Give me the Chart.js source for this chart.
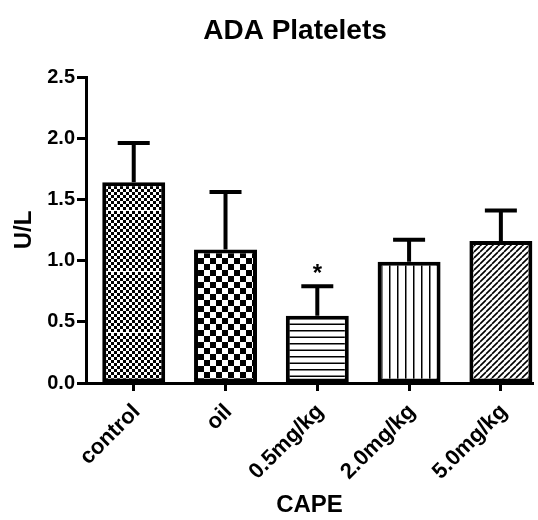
<!DOCTYPE html>
<html>
<head>
<meta charset="utf-8">
<script src="https://cdn.jsdelivr.net/npm/chart.js@4"></script>
<style>
  html, body { margin: 0; padding: 0; background: #fff; }
  #wrap { width: 538px; height: 520px; }
</style>
</head>
<body>
<div id="wrap"><canvas id="c" width="538" height="520"></canvas></div>
<script>
// ADA activity in platelets (U/L), mean with upper SEM bar
const categories = ['control', 'oil', '0.5mg/kg', '2.0mg/kg', '5.0mg/kg'];
const means = [1.64, 1.09, 0.55, 0.99, 1.16];
const errors = [0.32, 0.47, 0.24, 0.18, 0.25];
const marks = ['', '', '*', '', ''];
const yTicks = [0, 0.5, 1.0, 1.5, 2.0, 2.5];

const FONT = '"Liberation Sans", Arial, sans-serif';
Chart.defaults.color = '#000';
Chart.defaults.font.family = FONT;

// Fill patterns for the bars
function makePattern(kind) {
  const t = document.createElement('canvas');
  const g = t.getContext('2d');
  if (kind === 'fineCheck') {
    t.width = 6; t.height = 61;
    g.fillStyle = '#fff'; g.fillRect(0, 0, 6, 61);
    g.fillStyle = '#000';
    for (let y = 0; y < 60; y += 3) {
      for (let x = 0; x < 6; x += 3) {
        if (((x + y) / 3) % 2 === 0) g.fillRect(x, y, 3, 3);
      }
    }
  } else if (kind === 'check') {
    t.width = 12; t.height = 12;
    g.fillStyle = '#fff'; g.fillRect(0, 0, 12, 12);
    g.fillStyle = '#000';
    g.fillRect(0, 0, 6, 6); g.fillRect(6, 6, 6, 6);
  } else if (kind === 'hlines') {
    t.width = 4; t.height = 13;
    g.fillStyle = '#fff'; g.fillRect(0, 0, 4, 13);
    g.fillStyle = '#000'; g.fillRect(0, 5, 4, 1.5); g.fillRect(0, 11.5, 4, 1.5);
  } else if (kind === 'vlines') {
    t.width = 8; t.height = 4;
    g.fillStyle = '#fff'; g.fillRect(0, 0, 8, 4);
    g.fillStyle = '#000'; g.fillRect(5, 0, 1.5, 4);
  } else if (kind === 'diag') {
    t.width = 6; t.height = 6;
    g.fillStyle = '#fff'; g.fillRect(0, 0, 6, 6);
    g.strokeStyle = '#000'; g.lineWidth = 1.6;
    g.beginPath();
    for (let k = -6; k <= 12; k += 6) { g.moveTo(k, 6); g.lineTo(k + 6, 0); }
    g.stroke();
  }
  const p = g.createPattern(t, 'repeat');
  if (kind === 'fineCheck' && p.setTransform) p.setTransform(new DOMMatrix().translate(0, 28));
  return p;
}
const fills = ['fineCheck', 'check', 'hlines', 'vlines', 'diag'].map(makePattern);

// Upper error bars and significance marks
const errorBars = {
  id: 'errorBars',
  afterDatasetsDraw(chart) {
    const { ctx, scales: { x, y } } = chart;
    ctx.save();
    ctx.strokeStyle = '#000';
    ctx.lineWidth = 4;
    ctx.lineCap = 'butt';
    means.forEach((m, i) => {
      const px = x.getPixelForValue(i);
      const yBar = y.getPixelForValue(m);
      const yTop = y.getPixelForValue(m + errors[i]);
      ctx.beginPath();
      ctx.moveTo(px, yBar);
      ctx.lineTo(px, yTop);
      ctx.moveTo(px - 16, yTop);
      ctx.lineTo(px + 16, yTop);
      ctx.stroke();
      if (marks[i]) {
        ctx.fillStyle = '#000';
        ctx.font = 'bold 24px ' + FONT;
        ctx.textAlign = 'center';
        ctx.textBaseline = 'middle';
        ctx.fillText(marks[i], px, yTop - 12);
      }
    });
    ctx.restore();
  }
};

// Chart heading
const heading = {
  id: 'heading',
  afterDraw(chart) {
    const ctx = chart.ctx;
    ctx.save();
    ctx.fillStyle = '#000';
    ctx.font = 'bold 28px ' + FONT;
    ctx.textAlign = 'center';
    ctx.textBaseline = 'alphabetic';
    ctx.fillText('ADA Platelets', 295, 39);
    ctx.restore();
  }
};

new Chart(document.getElementById('c'), {
  type: 'bar',
  data: {
    datasets: [{
      data: means.map((v, i) => ({ x: i, y: v })),
      backgroundColor: fills,
      borderColor: '#000',
      borderWidth: 4,
      borderSkipped: false,
      categoryPercentage: 0.686,
      barPercentage: 1
    }]
  },
  options: {
    responsive: false,
    animation: false,
    layout: { padding: { top: 77, right: 5, bottom: 0, left: 0 } },
    plugins: { legend: { display: false }, tooltip: { enabled: false }, title: { display: false } },
    scales: {
      x: {
        type: 'linear',
        offset: false,
        min: -0.52,
        max: 4.35,
        afterBuildTicks(scale) { scale.ticks = categories.map((_, i) => ({ value: i })); },
        afterFit(scale) { scale.height = 137; },
        border: { display: true, color: '#000', width: 3 },
        grid: { display: true, offset: false, drawOnChartArea: false, drawTicks: true, tickLength: 8, tickWidth: 3, tickColor: '#000' },
        ticks: {
          minRotation: 45,
          maxRotation: 45,
          autoSkip: false,
          padding: 8,
          labelOffset: 3,
          font: { size: 22, weight: 'bold' },
          callback: (v) => categories[v]
        },
        title: {
          display: true,
          text: 'CAPE',
          font: { size: 24, weight: 'bold' },
          padding: { top: 0, bottom: 0 }
        }
      },
      y: {
        min: 0,
        max: 2.5,
        afterBuildTicks(scale) { scale.ticks = yTicks.map(v => ({ value: v })); },
        afterFit(scale) { scale.width = 86; },
        border: { display: true, color: '#000', width: 3 },
        grid: { display: true, drawOnChartArea: false, drawTicks: true, tickLength: 9, tickWidth: 3, tickColor: '#000' },
        ticks: {
          padding: 2,
          font: { size: 20, weight: 'bold' },
          callback: (v) => Number(v).toFixed(1)
        },
        title: {
          display: true,
          text: 'U/L',
          font: { size: 24, weight: 'bold' },
          padding: { top: 10, bottom: 0 }
        }
      }
    }
  },
  plugins: [errorBars, heading]
});
</script>
</body>
</html>
